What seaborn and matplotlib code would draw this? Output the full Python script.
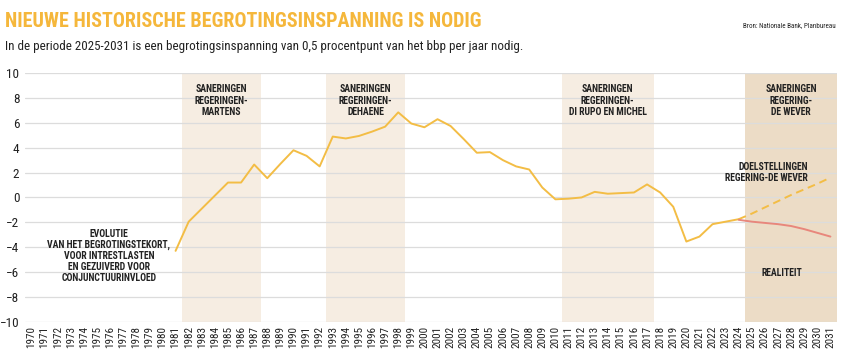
import pandas as pd
import seaborn as sns
import matplotlib.pyplot as plt

# data (% of GDP)
years = list(range(1981, 2025))
saldo = [-4.3, -1.95, -0.9, 0.15, 1.2, 1.2, 2.65, 1.55, 2.7, 3.8,
         3.35, 2.5, 4.9, 4.75, 4.95, 5.3, 5.7, 6.85, 5.95, 5.65,
         6.3, 5.75, 4.7, 3.6, 3.65, 3.0, 2.5, 2.25, 0.8, -0.15,
         -0.1, 0.0, 0.45, 0.3, 0.35, 0.4, 1.05, 0.4, -0.75, -3.55,
         -3.15, -2.15, -1.95, -1.75]

proj_years = list(range(2024, 2032))
doel = [-1.75, -1.3, -0.8, -0.3, 0.2, 0.65, 1.1, 1.6]
realiteit = [-1.8, -1.95, -2.05, -2.15, -2.3, -2.55, -2.85, -3.15]

periods = [(1982, 1987), (1993, 1998), (2011, 2017), (2025, 2031)]
period_labels = ["SANERINGEN\nREGERINGEN-\nMARTENS",
                 "SANERINGEN\nREGERINGEN-\nDEHAENE",
                 "SANERINGEN\nREGERINGEN-\nDI RUPO EN MICHEL",
                 "SANERINGEN\nREGERING-\nDE WEVER"]
all_years = list(range(1970, 2032))

sns.set_style("white")
plt.rcParams['font.family'] = ['Roboto Condensed', 'Roboto', 'DejaVu Sans']

yellow = "#f3bd45"
ink = "#222222"
fig = plt.figure(figsize=(8.41, 3.59), dpi=100)
ax = fig.add_axes([0.0297, 0.104, 0.9655, 0.692])

for i, (a, b) in enumerate(periods):
    col = "#ecdcc6" if i == 3 else "#f6ede2"
    ax.axvspan(a - 0.5, b + 0.5, color=col, lw=0, zorder=0)
    ax.text((a + b) / 2, 9.1, period_labels[i], ha='center', va='top',
            fontsize=7, fontweight='bold', color=ink, linespacing=1.15)

hist = pd.DataFrame({"jaar": years, "saldo": saldo})
proj = pd.DataFrame({"jaar": proj_years, "doel": doel, "realiteit": realiteit})
sns.lineplot(data=hist, x="jaar", y="saldo", color=yellow, lw=1.4, ax=ax, zorder=3)
sns.lineplot(data=proj, x="jaar", y="doel", color=yellow, lw=1.4, ax=ax,
             linestyle=(0, (4, 2.5)), zorder=3)
sns.lineplot(data=proj, x="jaar", y="realiteit", color="#e8877c", lw=1.4, ax=ax, zorder=3)

ax.text(1975.9, -4.7, "EVOLUTIE\nVAN HET BEGROTINGSTEKORT,\nVOOR INTRESTLASTEN\nEN GEZUIVERD VOOR\nCONJUNCTUURINVLOED",
        ha='center', va='center', fontsize=7, fontweight='bold', color=ink, linespacing=1.1)
ax.text(2029.3, 2.0, "DOELSTELLINGEN\nREGERING-DE WEVER", ha='right', va='center',
        fontsize=7, fontweight='bold', color=ink, linespacing=1.15)
ax.text(2027.3, -6.1, "REALITEIT", ha='center', va='center',
        fontsize=7, fontweight='bold', color=ink)

ax.set_xlim(1969.5, 2031.5)
ax.set_ylim(-10, 10)
ax.set_yticks(range(-10, 11, 2))
ax.set_xticks(all_years)
ax.set_xticklabels([str(y) for y in all_years], rotation=90, fontsize=8)
ax.tick_params(axis='y', labelsize=9.5, length=0, pad=4, labelcolor=ink)
ax.tick_params(axis='x', length=0, pad=3, labelcolor=ink)
ax.set_xlabel("")
ax.set_ylabel("")
ax.set_axisbelow('line')
ax.yaxis.grid(True, color="#dcdcdc", lw=0.9)
ax.xaxis.grid(False)
sns.despine(ax=ax, left=True, bottom=True)

fig.text(0.006, 0.925, "NIEUWE HISTORISCHE BEGROTINGSINSPANNING IS NODIG", fontsize=14.5,
         fontweight='bold', color="#f5b73b", va='baseline')
fig.text(0.006, 0.862, "In de periode 2025-2031 is een begrotingsinspanning van 0,5 procentpunt van het bbp per jaar nodig.",
         fontsize=9.4, color=ink, va='baseline')
fig.text(0.994, 0.925, "Bron: Nationale Bank, Planbureau", fontsize=5, color=ink,
         ha='right', va='baseline')

fig.savefig("out.png", dpi=100)
